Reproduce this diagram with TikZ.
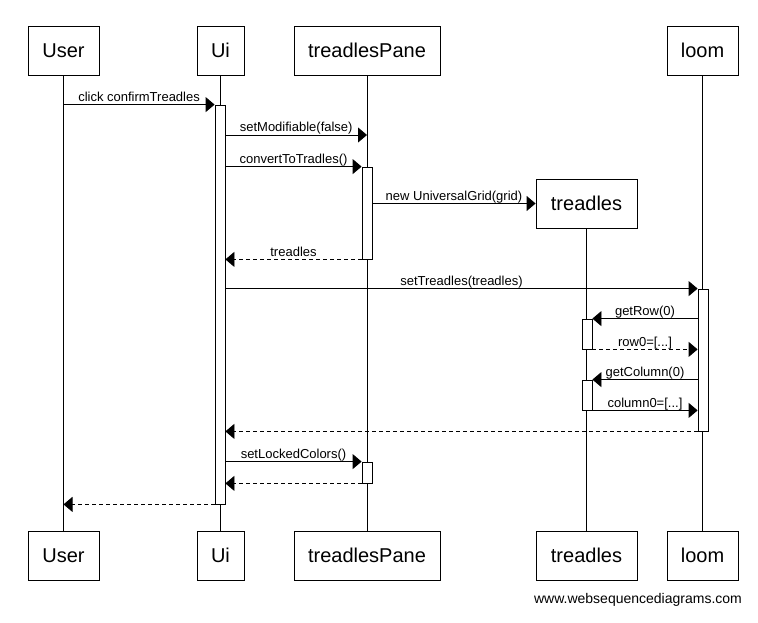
\documentclass[tikz,border=0pt]{standalone}
\usepackage{fontspec}
\setmainfont{Liberation Sans}
\usetikzlibrary{arrows.meta}
\begin{document}
\begin{tikzpicture}[x=1pt,y=-1pt, line width=0.8pt,
  actor/.style={draw, minimum height=49pt, inner sep=0pt, font=\fontsize{20}{24}\selectfont},
  act/.style={draw, fill=white, minimum width=10pt, inner sep=0pt},
  msg/.style={-{Triangle[length=9pt,width=15pt]}},
  ret/.style={msg, dash pattern=on 4pt off 3pt},
  lbl/.style={font=\fontsize{13}{15}\selectfont, anchor=base, inner sep=0pt, yshift=3pt}]
\useasboundingbox (0,0) rectangle (758,623);
% actors top
\node[actor, minimum width=71pt] (userT) at (63.5,50.5) {User};
\node[actor, minimum width=47pt] (uiT) at (220.5,50.5) {Ui};
\node[actor, minimum width=146pt] (tpT) at (367,50.5) {treadlesPane};
\node[actor, minimum width=71pt] (loomT) at (702.5,50.5) {loom};
\node[actor, minimum width=101pt] (trC) at (586.5,203.5) {treadles};
% actors bottom
\node[actor, minimum width=71pt] (userB) at (63.5,555.5) {User};
\node[actor, minimum width=47pt] (uiB) at (220.5,555.5) {Ui};
\node[actor, minimum width=146pt] (tpB) at (367,555.5) {treadlesPane};
\node[actor, minimum width=101pt] (trB) at (586.5,555.5) {treadles};
\node[actor, minimum width=71pt] (loomB) at (702.5,555.5) {loom};
% lifelines
\draw (userT) -- (userB);
\draw (uiT) -- (uiB);
\draw (tpT) -- (tpB);
\draw (trC) -- (trB);
\draw (loomT) -- (loomB);
% activations
\node[act, minimum height=399pt] (uiA) at (220,304.5) {};
\node[act, minimum height=92pt] (tpA1) at (367,213) {};
\node[act, minimum height=142pt] (loomA) at (703,360) {};
\node[act, minimum height=30pt] (trA1) at (587,334) {};
\node[act, minimum height=30pt] (trA2) at (587,395) {};
\node[act, minimum height=21pt] (tpA2) at (367,472.5) {};
% messages
\draw[msg] (userT |- uiA.north) -- node[lbl] (l1) {click confirmTreadles} (uiA.north west);
\draw[msg] (uiA.east |- 0,135) -- node[lbl] (l2) {setModifiable(false)} (tpT |- 0,135);
\draw[msg] (uiA.east |- tpA1.north) -- node[lbl] (l3) {convertToTradles()} (tpA1.north west);
\draw[msg] (tpA1.east |- trC.west) -- node[lbl] (l4) {new UniversalGrid(grid)} (trC.west);
\draw[ret] (tpA1.south west) -- node[lbl] (l5) {treadles} (uiA.east |- tpA1.south);
\draw[msg] (uiA.east |- loomA.north) -- node[lbl] (l6) {setTreadles(treadles)} (loomA.north west);
\draw[msg] (loomA.west |- trA1.north) -- node[lbl] (l7) {getRow(0)} (trA1.north east);
\draw[ret] (trA1.south east) -- node[lbl] (l8) {row0=[...]} (loomA.west |- trA1.south);
\draw[msg] (loomA.west |- trA2.north) -- node[lbl] (l9) {getColumn(0)} (trA2.north east);
\draw[msg] (trA2.south east) -- node[lbl] (l10) {column0=[...]} (loomA.west |- trA2.south);
\draw[ret] (loomA.south west) -- (uiA.east |- loomA.south);
\draw[msg] (uiA.east |- tpA2.north) -- node[lbl] (l11) {setLockedColors()} (tpA2.north west);
\draw[ret] (tpA2.south west) -- (uiA.east |- tpA2.south);
\draw[ret] (uiA.south west) -- (userT |- uiA.south);
% watermark
\node[anchor=base, inner sep=0pt, font=\fontsize{14}{16}\selectfont] (wm) at (638,603) {www.websequencediagrams.com};
\end{tikzpicture}
\end{document}
